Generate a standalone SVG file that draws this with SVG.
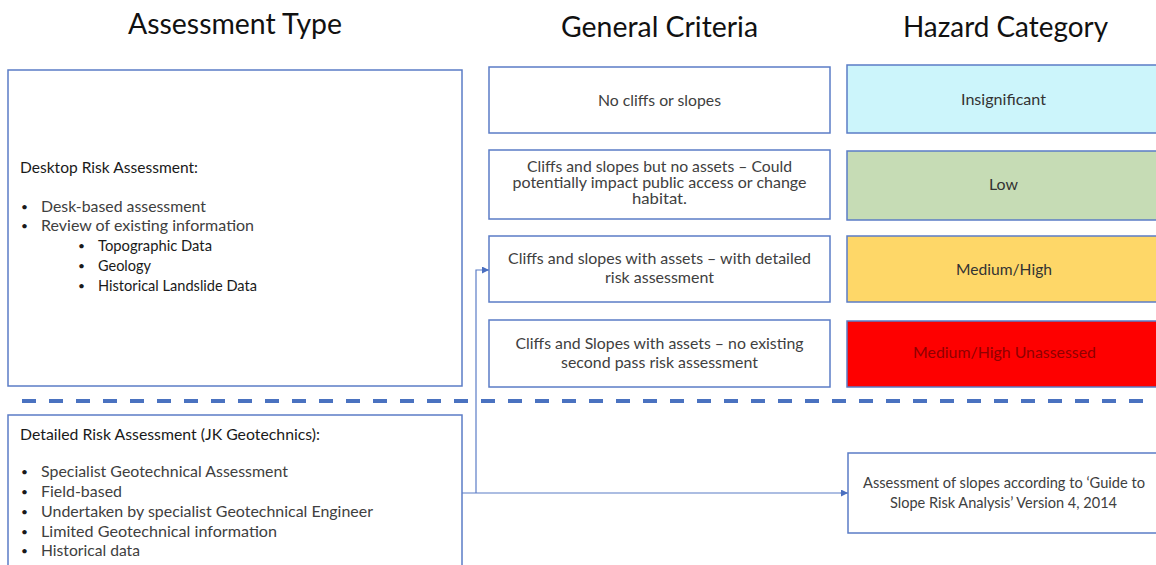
<svg xmlns="http://www.w3.org/2000/svg" width="1156" height="565" viewBox="0 0 1156 565">
<defs>
<style>
.t{font-family:"Lato","Liberation Sans",sans-serif;}
.h{font-size:28px;fill:#111;}
.b{fill:#fff;stroke:#5b7cc6;stroke-width:1.5;}
.c{font-size:16px;fill:#404040;text-anchor:middle;}
.l{font-size:16px;fill:#404040;}
.k{font-size:16px;fill:#1a1a1a;}
.d{font-size:12px;}
.hz{font-size:16px;fill:#333;text-anchor:middle;}
.con{fill:none;stroke:#5b7cc6;stroke-width:1.2;}
</style>
<marker id="ah" viewBox="0 0 10 10" refX="10" refY="5" markerWidth="7" markerHeight="7" markerUnits="userSpaceOnUse" orient="auto">
<path d="M0,0 L10,5 L0,10 z" fill="#4a6fc0"/>
</marker>
</defs>
<rect width="1156" height="565" fill="#fff"/>

<g id="headers" class="t h">
<text x="128" y="34" textLength="214" lengthAdjust="spacingAndGlyphs">Assessment Type</text>
<text x="561" y="37" textLength="197" lengthAdjust="spacingAndGlyphs">General Criteria</text>
<text x="903" y="37" textLength="205" lengthAdjust="spacingAndGlyphs">Hazard Category</text>
</g>

<g id="connectors">
<polyline class="con" points="462,493 840,493"/>
<line x1="840" y1="493" x2="848" y2="493" stroke="#5b7cc6" stroke-width="1.2" marker-end="url(#ah)"/>
<polyline class="con" points="476,493 476,270 482,270"/>
<line x1="482" y1="270" x2="489" y2="270" stroke="#5b7cc6" stroke-width="1.2" marker-end="url(#ah)"/>
<line x1="22" y1="401" x2="1156" y2="401" stroke="#4a72c0" stroke-width="4" stroke-dasharray="14,13"/>
</g>

<g id="desktop">
<rect class="b" x="8" y="70" width="454" height="316"/>
<g class="t">
<text class="k" x="20" y="173" textLength="178" lengthAdjust="spacingAndGlyphs">Desktop Risk Assessment:</text>
<text class="k d" x="21" y="211">•</text>
<text class="l" x="41" y="212" textLength="165" lengthAdjust="spacingAndGlyphs">Desk-based assessment</text>
<text class="k d" x="21" y="230">•</text>
<text class="l" x="41" y="231" textLength="213" lengthAdjust="spacingAndGlyphs">Review of existing information</text>
<text class="k d" x="78" y="250">•</text>
<text class="k" x="98" y="251" textLength="114" lengthAdjust="spacingAndGlyphs">Topographic Data</text>
<text class="k d" x="78" y="270">•</text>
<text class="k" x="98" y="271" textLength="53" lengthAdjust="spacingAndGlyphs">Geology</text>
<text class="k d" x="78" y="290">•</text>
<text class="k" x="98" y="291" textLength="159" lengthAdjust="spacingAndGlyphs">Historical Landslide Data</text>
</g>
</g>

<g id="detailed">
<rect class="b" x="8" y="415" width="454" height="160"/>
<g class="t">
<text class="k" x="20" y="440" textLength="300" lengthAdjust="spacingAndGlyphs">Detailed Risk Assessment (JK Geotechnics):</text>
<text class="k d" x="21" y="476">•</text>
<text class="l" x="41" y="477" textLength="247" lengthAdjust="spacingAndGlyphs">Specialist Geotechnical Assessment</text>
<text class="k d" x="21" y="496">•</text>
<text class="l" x="41" y="497" textLength="81" lengthAdjust="spacingAndGlyphs">Field-based</text>
<text class="k d" x="21" y="516">•</text>
<text class="l" x="41" y="517" textLength="332" lengthAdjust="spacingAndGlyphs">Undertaken by specialist Geotechnical Engineer</text>
<text class="k d" x="21" y="536">•</text>
<text class="l" x="41" y="537" textLength="236" lengthAdjust="spacingAndGlyphs">Limited Geotechnical information</text>
<text class="k d" x="21" y="555">•</text>
<text class="l" x="41" y="556" textLength="99" lengthAdjust="spacingAndGlyphs">Historical data</text>
</g>
</g>

<g id="crit1">
<rect class="b" x="489" y="67" width="341" height="66"/>
<text class="t c" x="659.5" y="106" textLength="123" lengthAdjust="spacingAndGlyphs">No cliffs or slopes</text>
</g>
<g id="crit2">
<rect class="b" x="489" y="150" width="341" height="69"/>
<text class="t c" x="659.5" y="172" style="font-size:15px" textLength="265" lengthAdjust="spacingAndGlyphs">Cliffs and slopes but no assets – Could</text>
<text class="t c" x="659.5" y="188" style="font-size:15px" textLength="294" lengthAdjust="spacingAndGlyphs">potentially impact public access or change</text>
<text class="t c" x="659.5" y="204" style="font-size:15px" textLength="55" lengthAdjust="spacingAndGlyphs">habitat.</text>
</g>
<g id="crit3">
<rect class="b" x="489" y="236" width="341" height="66"/>
<text class="t c" x="659.5" y="264" textLength="303" lengthAdjust="spacingAndGlyphs">Cliffs and slopes with assets – with detailed</text>
<text class="t c" x="659.5" y="283" textLength="109" lengthAdjust="spacingAndGlyphs">risk assessment</text>
</g>
<g id="crit4">
<rect class="b" x="489" y="320" width="341" height="67"/>
<text class="t c" x="659.5" y="349" textLength="288" lengthAdjust="spacingAndGlyphs">Cliffs and Slopes with assets – no existing</text>
<text class="t c" x="659.5" y="368" textLength="197" lengthAdjust="spacingAndGlyphs">second pass risk assessment</text>
</g>

<g id="haz1">
<rect x="847" y="65" width="320" height="68" fill="#ccf5fb" stroke="#5b7cc6" stroke-width="1.5"/>
<text class="t hz" x="1003.5" y="105" textLength="85" lengthAdjust="spacingAndGlyphs">Insignificant</text>
</g>
<g id="haz2">
<rect x="847" y="151" width="320" height="69" fill="#c6dcb5" stroke="#5b7cc6" stroke-width="1.5"/>
<text class="t hz" x="1003.5" y="190" textLength="29" lengthAdjust="spacingAndGlyphs">Low</text>
</g>
<g id="haz3">
<rect x="847" y="236" width="320" height="66" fill="#fed768" stroke="#5b7cc6" stroke-width="1.5"/>
<text class="t hz" x="1004" y="275" textLength="96" lengthAdjust="spacingAndGlyphs">Medium/High</text>
</g>
<g id="haz4">
<rect x="847" y="321" width="320" height="66" fill="#fe0000" stroke="#5b7cc6" stroke-width="1.5"/>
<text class="t hz" x="1004.5" y="358" style="fill:#8f0000" textLength="183" lengthAdjust="spacingAndGlyphs">Medium/High Unassessed</text>
</g>

<g id="guide">
<rect class="b" x="848" y="453" width="320" height="80"/>
<text class="t hz" x="1004" y="488" style="fill:#404040;font-size:15px" textLength="282" lengthAdjust="spacingAndGlyphs">Assessment of slopes according to ‘Guide to</text>
<text class="t hz" x="1003.5" y="508" style="fill:#404040;font-size:15px" textLength="227" lengthAdjust="spacingAndGlyphs">Slope Risk Analysis’ Version 4, 2014</text>
</g>
</svg>
